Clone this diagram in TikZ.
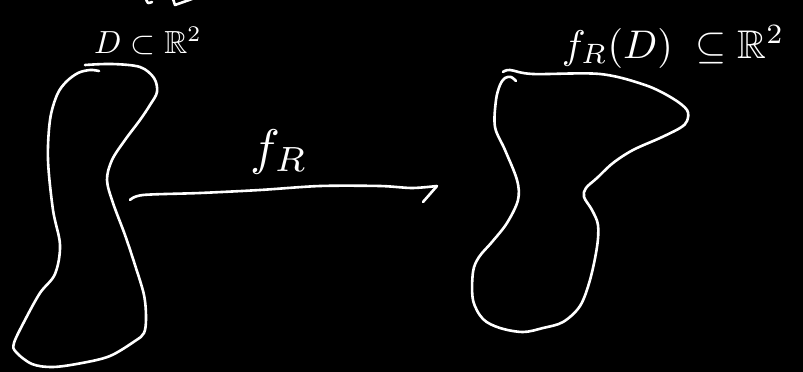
\documentclass[tikz,border=0pt]{standalone}
\usepackage{amssymb}
\begin{document}
\begin{tikzpicture}[x=1pt,y=-1pt,
  chalk/.style={draw=white,line width=2.6pt,line cap=round,line join=round},
  lbl/.style={text=white,inner sep=0pt}]
\fill[black] (0,0) rectangle (803,372);
\useasboundingbox (0,0) rectangle (803,372);
% cut-off marks at top
\draw[chalk] plot[smooth] coordinates {(146,-1) (148,3) (152,2)};
\draw[chalk] (173,-1) -- (175,5) -- (192,-1);
% left region D
\draw[chalk] plot[smooth,tension=0.55] coordinates {
 (85,65) (112,64) (140,67) (154,78) (157,92) (150,105) (140,120) (125,140)
 (112,160) (107,180) (113,203) (125,235) (135,265) (144,295) (146,318)
 (144,333) (135,341) (110,356) (82,363) (53,367) (32,364) (16,352) (14,343)
 (25,320) (40,293) (55,274) (60,245) (53,210) (48,160) (50,120) (57,95)
 (66,82) (78,73) (90,70) (99,71)};
% right region f_R(D)
\draw[chalk] plot[smooth,tension=0.55] coordinates {
 (503,72) (510,70) (533,74) (600,74) (645,85) (672,98) (687,110) (687,121)
 (680,128) (660,138) (633,150) (613,163) (597,178) (586,188) (584,197)
 (592,210) (598,225) (597,247) (590,280) (580,306) (563,322) (543,328)
 (523,332) (500,328) (483,319) (473,300) (473,272) (479,257) (492,242)
 (507,223) (518,200) (517,180) (505,150) (495,127) (496,100) (500,85)
 (505,78) (511,77) (516,81)};
% arrow
\coordinate (a0) at (130,200);
\coordinate (a1) at (437,186);
\coordinate (a2) at (423,202);
\draw[chalk] plot[smooth,tension=0.5] coordinates {(a0) (143,195) (200,193) (260,190) (320,186) (380,186) (412,188) (a1)};
\draw[chalk] (a1) -- (a2);
% labels
\node[lbl,anchor=base,scale=3.2] (dlab) at (148,53) {$D\subset\mathbb{R}^2$};
\node[lbl,anchor=base,scale=5] (flab) at (279,164) {$f_{R}$};
\node[lbl,anchor=base,scale=4] (ilab) at (673,58) {$f_{R}(D)\;\subseteq\mathbb{R}^{2}$};
\end{tikzpicture}
\end{document}
